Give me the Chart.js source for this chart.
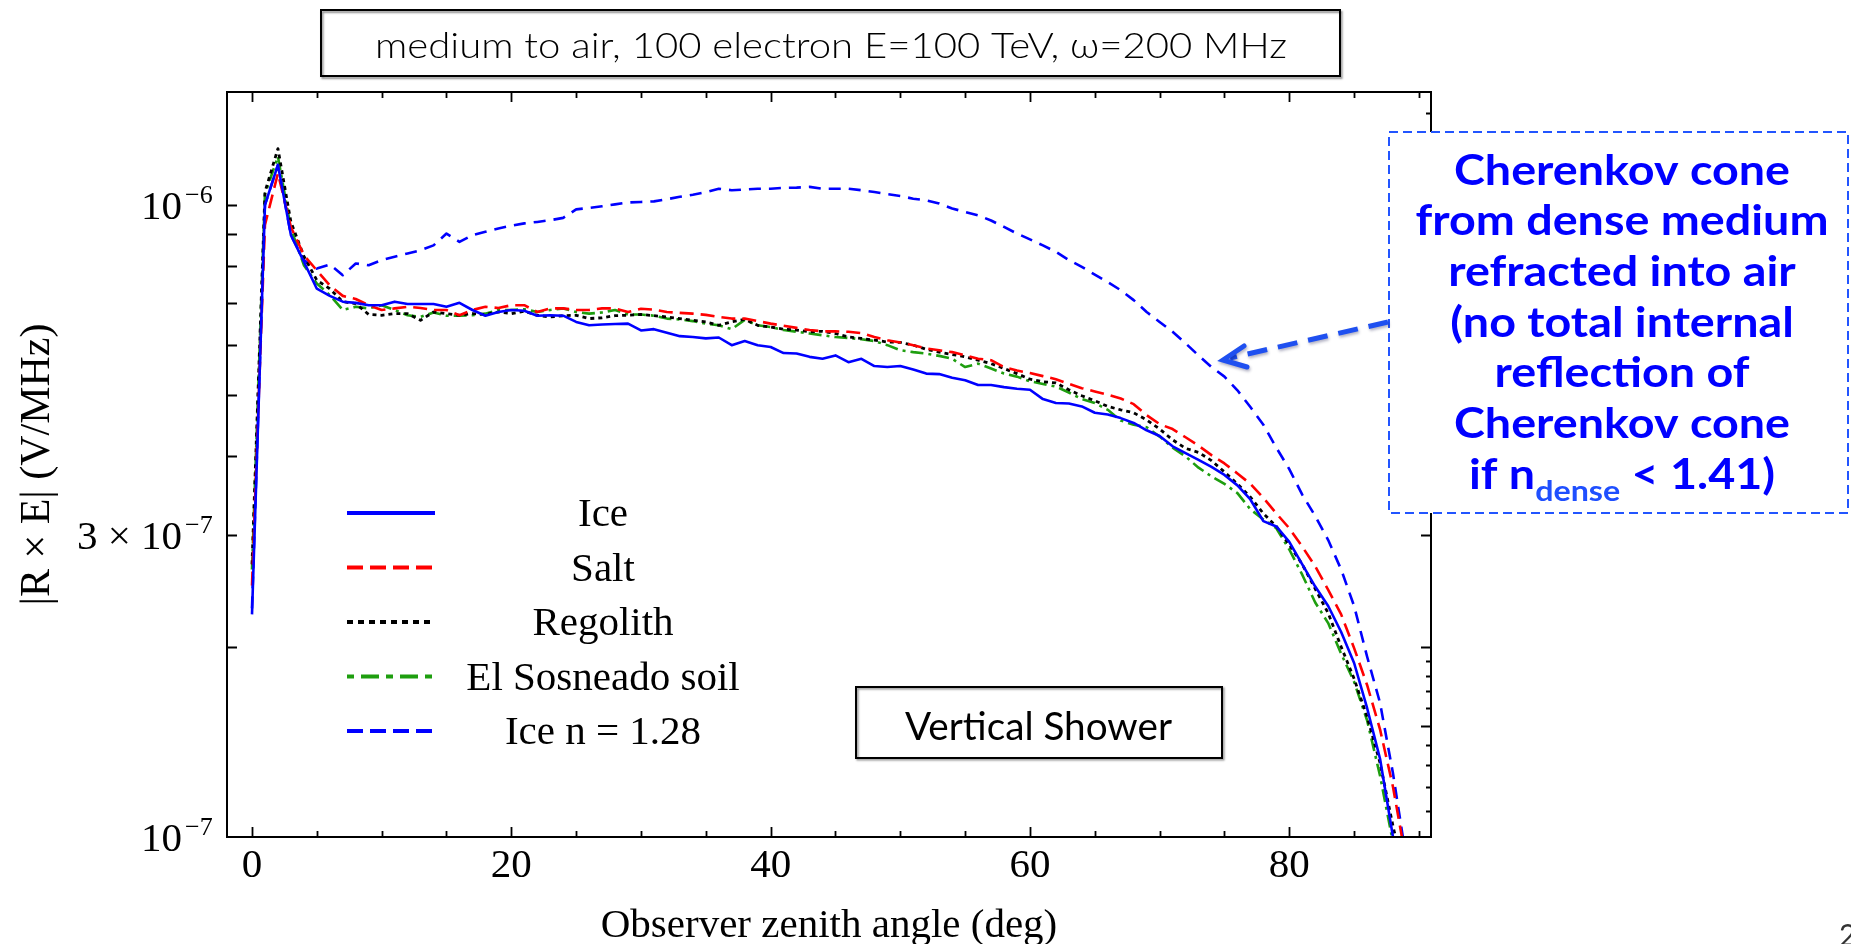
<!DOCTYPE html>
<html>
<head>
<meta charset="utf-8">
<title>medium to air</title>
<script src="https://cdn.jsdelivr.net/npm/chart.js@4.4.1/dist/chart.umd.min.js"></script>
<style>
html,body{margin:0;padding:0;background:#fff;overflow:hidden;}
canvas{display:block;}
</style>
</head>
<body>
<canvas id="c" width="1851" height="944"></canvas>
<script>
// ---------------- DATA ----------------
const angles = [0,1,2,3,4,5,6,7,8,9,10,11,12,13,14,15,16,17,18,19,20,21,22,23,24,25,26,27,28,29,30,31,32,33,34,35,36,37,38,39,40,41,42,43,44,45,46,47,48,49,50,51,52,53,54,55,56,57,58,59,60,61,62,63,64,65,66,67,68,69,70,71,72,73,74,75,76,77,78,79,80,81,82,83,84,85,86,87,88,89];

const iceVals = [2.25e-7,10.0e-7,11.57e-7,8.96e-7,8.13e-7,7.37e-7,7.18e-7,7.03e-7,7.00e-7,6.94e-7,
6.94e-7,7.03e-7,6.97e-7,6.97e-7,6.97e-7,6.90e-7,7.00e-7,6.82e-7,6.68e-7,6.77e-7,
6.82e-7,6.80e-7,6.68e-7,6.69e-7,6.68e-7,6.53e-7,6.45e-7,6.47e-7,6.48e-7,6.49e-7,
6.33e-7,6.36e-7,6.28e-7,6.20e-7,6.18e-7,6.15e-7,6.17e-7,6.00e-7,6.09e-7,6.00e-7,
5.96e-7,5.83e-7,5.82e-7,5.75e-7,5.71e-7,5.78e-7,5.64e-7,5.71e-7,5.56e-7,5.54e-7,
5.56e-7,5.49e-7,5.41e-7,5.40e-7,5.33e-7,5.28e-7,5.19e-7,5.19e-7,5.15e-7,5.12e-7,
5.10e-7,4.93e-7,4.86e-7,4.85e-7,4.80e-7,4.69e-7,4.66e-7,4.60e-7,4.52e-7,4.40e-7,
4.31e-7,4.15e-7,4.05e-7,3.95e-7,3.85e-7,3.74e-7,3.60e-7,3.42e-7,3.16e-7,3.10e-7,
2.93e-7,2.70e-7,2.49e-7,2.32e-7,2.11e-7,1.885e-7,1.60e-7,1.33e-7,1.00e-7,0.85e-7];

const saltVals = [2.50e-7,9.30e-7,11.22e-7,9.23e-7,8.33e-7,7.88e-7,7.46e-7,7.18e-7,7.10e-7,6.94e-7,
6.82e-7,6.86e-7,6.90e-7,6.87e-7,6.82e-7,6.82e-7,6.69e-7,6.82e-7,6.90e-7,6.87e-7,
6.94e-7,6.94e-7,6.77e-7,6.86e-7,6.86e-7,6.82e-7,6.82e-7,6.86e-7,6.86e-7,6.77e-7,
6.85e-7,6.83e-7,6.77e-7,6.75e-7,6.73e-7,6.70e-7,6.65e-7,6.61e-7,6.61e-7,6.55e-7,
6.49e-7,6.44e-7,6.39e-7,6.34e-7,6.31e-7,6.31e-7,6.30e-7,6.27e-7,6.18e-7,6.11e-7,
6.06e-7,6.00e-7,5.93e-7,5.89e-7,5.85e-7,5.78e-7,5.71e-7,5.68e-7,5.54e-7,5.47e-7,
5.42e-7,5.36e-7,5.30e-7,5.21e-7,5.13e-7,5.07e-7,5.01e-7,4.94e-7,4.84e-7,4.65e-7,
4.50e-7,4.42e-7,4.29e-7,4.16e-7,4.02e-7,3.90e-7,3.76e-7,3.62e-7,3.44e-7,3.25e-7,
3.08e-7,2.88e-7,2.68e-7,2.46e-7,2.25e-7,1.99e-7,1.74e-7,1.48e-7,1.20e-7,0.92e-7];

const regolithVals = [2.70e-7,10.48e-7,12.28e-7,9.40e-7,8.30e-7,7.60e-7,7.37e-7,7.03e-7,6.98e-7,6.71e-7,
6.69e-7,6.73e-7,6.73e-7,6.57e-7,6.77e-7,6.73e-7,6.69e-7,6.73e-7,6.71e-7,6.77e-7,
6.73e-7,6.79e-7,6.69e-7,6.65e-7,6.68e-7,6.69e-7,6.61e-7,6.63e-7,6.68e-7,6.69e-7,
6.71e-7,6.68e-7,6.65e-7,6.61e-7,6.57e-7,6.53e-7,6.45e-7,6.53e-7,6.59e-7,6.45e-7,
6.41e-7,6.36e-7,6.34e-7,6.30e-7,6.31e-7,6.26e-7,6.18e-7,6.15e-7,6.11e-7,6.07e-7,
6.06e-7,6.00e-7,5.91e-7,5.85e-7,5.80e-7,5.75e-7,5.68e-7,5.61e-7,5.51e-7,5.41e-7,
5.30e-7,5.25e-7,5.23e-7,5.10e-7,4.99e-7,4.90e-7,4.80e-7,4.74e-7,4.69e-7,4.57e-7,
4.42e-7,4.25e-7,4.12e-7,4.06e-7,3.94e-7,3.78e-7,3.62e-7,3.45e-7,3.25e-7,3.10e-7,
2.90e-7,2.70e-7,2.47e-7,2.26e-7,2.00e-7,1.78e-7,1.55e-7,1.31e-7,1.04e-7,0.85e-7];

const soilVals = [2.65e-7,10.40e-7,11.93e-7,9.18e-7,8.03e-7,7.51e-7,7.20e-7,6.82e-7,6.90e-7,6.86e-7,
6.94e-7,6.82e-7,6.69e-7,6.65e-7,6.76e-7,6.68e-7,6.68e-7,6.69e-7,6.73e-7,6.82e-7,
6.82e-7,6.84e-7,6.77e-7,6.82e-7,6.86e-7,6.77e-7,6.73e-7,6.76e-7,6.82e-7,6.71e-7,
6.71e-7,6.68e-7,6.61e-7,6.59e-7,6.55e-7,6.49e-7,6.45e-7,6.36e-7,6.58e-7,6.45e-7,
6.41e-7,6.34e-7,6.30e-7,6.26e-7,6.22e-7,6.18e-7,6.16e-7,6.13e-7,6.09e-7,6.00e-7,
5.89e-7,5.85e-7,5.82e-7,5.77e-7,5.71e-7,5.54e-7,5.61e-7,5.51e-7,5.41e-7,5.35e-7,
5.26e-7,5.21e-7,5.16e-7,5.05e-7,4.93e-7,4.86e-7,4.74e-7,4.56e-7,4.49e-7,4.45e-7,
4.30e-7,4.13e-7,4.00e-7,3.84e-7,3.72e-7,3.62e-7,3.50e-7,3.30e-7,3.18e-7,3.08e-7,
2.85e-7,2.60e-7,2.35e-7,2.18e-7,1.95e-7,1.76e-7,1.53e-7,1.25e-7,0.98e-7,0.85e-7];

const iceN128Vals = [2.30e-7,10.0e-7,11.57e-7,8.96e-7,8.18e-7,7.93e-7,8.05e-7,7.74e-7,8.08e-7,8.03e-7,
8.18e-7,8.28e-7,8.38e-7,8.48e-7,8.63e-7,9.01e-7,8.74e-7,8.96e-7,9.07e-7,9.18e-7,
9.27e-7,9.35e-7,9.40e-7,9.46e-7,9.54e-7,9.84e-7,9.89e-7,9.95e-7,10.02e-7,10.09e-7,
10.11e-7,10.13e-7,10.21e-7,10.30e-7,10.38e-7,10.48e-7,10.61e-7,10.55e-7,10.58e-7,10.61e-7,
10.61e-7,10.64e-7,10.65e-7,10.68e-7,10.61e-7,10.61e-7,10.61e-7,10.55e-7,10.48e-7,10.40e-7,
10.33e-7,10.23e-7,10.17e-7,10.05e-7,9.87e-7,9.75e-7,9.63e-7,9.45e-7,9.23e-7,9.01e-7,
8.82e-7,8.63e-7,8.43e-7,8.18e-7,7.98e-7,7.76e-7,7.55e-7,7.33e-7,7.07e-7,6.77e-7,
6.53e-7,6.30e-7,6.04e-7,5.78e-7,5.54e-7,5.35e-7,5.09e-7,4.79e-7,4.49e-7,4.13e-7,
3.82e-7,3.48e-7,3.22e-7,2.95e-7,2.65e-7,2.32e-7,1.93e-7,1.63e-7,1.26e-7,0.93e-7];

const seriesNames = ['Ice', 'Salt', 'Regolith', 'El Sosneado soil', 'Ice n = 1.28'];

// tick values / labels
const xTickLabels = [0, 20, 40, 60, 80];
const xTickMarks = [0,5,10,15,20,25,30,35,40,45,50,55,60,65,70,75,80,85,90];
const yLeftTickMarks = [2e-7,3e-7,4e-7,5e-7,6e-7,7e-7,8e-7,9e-7,1e-6];
const yRightFineTicks = [1.1e-7,1.2e-7,1.3e-7,1.4e-7,1.6e-7,1.7e-7,1.8e-7,1.9e-7,1.1e-6,1.2e-6,1.3e-6,1.4e-6];
const yRightMainTicks = [1.5e-7,2e-7,3e-7,4e-7,5e-7,6e-7,7e-7,8e-7,9e-7,1e-6];
const yTickLabels = [
  {v: 1e-7, base: '10', exp: '\u22127'},
  {v: 3e-7, base: '3 \u00d7 10', exp: '\u22127'},
  {v: 1e-6, base: '10', exp: '\u22126'}
];

const titleText = 'medium to air, 100 electron E=100 TeV, \u03c9=200 MHz';
const xTitle = 'Observer zenith angle (deg)';
const yTitle = '|R \u00d7 E| (V/MHz)';
const boxText = 'Vertical Shower';
const noteLines = ['Cherenkov cone', 'from dense medium', 'refracted into air', '(no total internal', 'reflection of', 'Cherenkov cone'];

// ---------------- STYLE ----------------
const SERIF = '"Liberation Serif","Times New Roman",Times,serif';
const SANS = 'Lato,"Open Sans","DejaVu Sans",sans-serif';
const styles = [
  {color:'#0000ff', dash:[], width:2.6},
  {color:'#ff0000', dash:[14,7], width:2.6},
  {color:'#000000', dash:[4,4], width:2.8},
  {color:'#1e9e0f', dash:[13,5,3,5], width:2.6},
  {color:'#0000ff', dash:[12,8], width:2.6}
];
const seriesData = [iceVals, saltVals, regolithVals, soilVals, iceN128Vals];

const datasets = seriesData.map((vals, k) => ({
  label: seriesNames[k],
  data: angles.map((a, i) => ({x: a, y: vals[i]})),
  borderColor: styles[k].color,
  backgroundColor: styles[k].color,
  borderDash: styles[k].dash,
  borderWidth: styles[k].width,
  borderJoinStyle: 'round',
  pointRadius: 0,
  tension: 0,
  fill: false
}));

function fitText(ctx, text, cx, baseline, targetW) {
  const w = ctx.measureText(text).width;
  ctx.save();
  ctx.translate(cx, baseline);
  ctx.scale(targetW / w, 1);
  ctx.textAlign = 'center';
  ctx.fillText(text, 0, 0);
  ctx.restore();
}

const overlay = {
  id: 'overlay',
  afterDraw(chart) {
    const ctx = chart.ctx, a = chart.chartArea;
    const xs = chart.scales.x, ys = chart.scales.y;
    ctx.save();
    ctx.setLineDash([]);
    // frame
    ctx.strokeStyle = '#000';
    ctx.lineWidth = 2;
    ctx.strokeRect(a.left, a.top, a.right - a.left, a.bottom - a.top);
    // ticks
    ctx.lineWidth = 1.8;
    ctx.beginPath();
    xTickMarks.forEach(v => {
      const px = Math.round(xs.getPixelForValue(v)) + 0.5;
      const L = (v % 20 === 0) ? 10 : 6;
      ctx.moveTo(px, a.bottom); ctx.lineTo(px, a.bottom - L);
      ctx.moveTo(px, a.top); ctx.lineTo(px, a.top + L);
    });
    yLeftTickMarks.forEach(v => {
      const py = Math.round(ys.getPixelForValue(v)) + 0.5;
      ctx.moveTo(a.left, py); ctx.lineTo(a.left + 10, py);
    });
    yRightMainTicks.forEach(v => {
      const py = Math.round(ys.getPixelForValue(v)) + 0.5;
      ctx.moveTo(a.right, py); ctx.lineTo(a.right - 10, py);
    });
    yRightFineTicks.forEach(v => {
      const py = Math.round(ys.getPixelForValue(v)) + 0.5;
      ctx.moveTo(a.right, py); ctx.lineTo(a.right - 5, py);
    });
    ctx.stroke();

    // x tick labels
    ctx.fillStyle = '#000';
    ctx.font = '41px ' + SERIF;
    ctx.textAlign = 'center';
    ctx.textBaseline = 'alphabetic';
    xTickLabels.forEach(v => {
      ctx.fillText(String(v), xs.getPixelForValue(v), 877);
    });
    // y tick labels with superscripts
    yTickLabels.forEach(t => {
      const py = ys.getPixelForValue(t.v);
      ctx.font = '41px ' + SERIF;
      ctx.textAlign = 'right';
      ctx.fillText(t.base, 182, py + 14);
      ctx.font = '26px ' + SERIF;
      ctx.textAlign = 'left';
      ctx.fillText(t.exp, 185, py - 2);
    });
    // axis titles
    ctx.font = '41px ' + SERIF;
    ctx.textAlign = 'center';
    ctx.fillText(xTitle, (a.left + a.right) / 2, 937);
    ctx.save();
    ctx.translate(49, (a.top + a.bottom) / 2);
    ctx.rotate(-Math.PI / 2);
    ctx.font = '42px ' + SERIF;
    ctx.fillText(yTitle, 0, 0);
    ctx.restore();

    // legend
    const legY0 = 513, legDy = 54.5;
    seriesNames.forEach((name, k) => {
      const y = legY0 + legDy * k;
      ctx.save();
      ctx.strokeStyle = styles[k].color;
      ctx.lineWidth = 4;
      const d = k === 1 || k === 4 ? [16,7] : k === 2 ? [6,5] : k === 3 ? [7,7,18,7] : [];
      ctx.setLineDash(d);
      ctx.beginPath(); ctx.moveTo(347, y); ctx.lineTo(435, y); ctx.stroke();
      ctx.restore();
      ctx.font = '41px ' + SERIF;
      ctx.textAlign = 'center';
      ctx.fillStyle = '#000';
      ctx.fillText(name, 603, y + 13);
    });

    // title box
    ctx.save();
    ctx.shadowColor = 'rgba(0,0,0,0.45)'; ctx.shadowOffsetX = 1.5; ctx.shadowOffsetY = 2; ctx.shadowBlur = 2;
    ctx.strokeStyle = '#000'; ctx.lineWidth = 2;
    ctx.strokeRect(321, 10, 1019, 66);
    ctx.restore();
    ctx.fillStyle = '#000';
    ctx.font = '300 35px ' + SANS;
    fitText(ctx, titleText, 831, 58, 912);

    // Vertical Shower box
    ctx.save();
    ctx.fillStyle = '#fff';
    ctx.fillRect(856, 687, 366, 71);
    ctx.shadowColor = 'rgba(0,0,0,0.45)'; ctx.shadowOffsetX = 1.5; ctx.shadowOffsetY = 1.5; ctx.shadowBlur = 2;
    ctx.strokeStyle = '#000'; ctx.lineWidth = 2;
    ctx.strokeRect(856, 687, 366, 71);
    ctx.restore();
    ctx.fillStyle = '#000';
    ctx.font = '38px ' + SANS;
    fitText(ctx, boxText, 1038.5, 740, 267);

    // annotation box
    ctx.save();
    ctx.fillStyle = '#fff';
    ctx.fillRect(1389, 132, 459, 381);
    ctx.strokeStyle = '#2255ff'; ctx.lineWidth = 2; ctx.setLineDash([9,5]);
    ctx.strokeRect(1389, 132, 459, 381);
    ctx.restore();
    ctx.fillStyle = '#0000ff';
    ctx.font = 'bold 42px ' + SANS;
    const sx = 413 / ctx.measureText('from dense medium').width;
    const baselines = [185, 235, 286, 337, 387, 438, 489];
    noteLines.forEach((ln, i) => {
      ctx.save();
      ctx.translate(1622, baselines[i]);
      ctx.scale(sx, 1);
      ctx.textAlign = 'center';
      ctx.fillText(ln, 0, 0);
      ctx.restore();
    });
    // last line with subscript
    ctx.save();
    ctx.translate(1622, baselines[6]);
    ctx.scale(sx, 1);
    ctx.textAlign = 'left';
    ctx.font = 'bold 42px ' + SANS;
    const p1 = 'if n', p3 = ' < 1.41)';
    const w1 = ctx.measureText(p1).width;
    const w3 = ctx.measureText(p3).width;
    ctx.font = 'bold 29px ' + SANS;
    const w2 = ctx.measureText('dense').width;
    const tot = w1 + w2 + w3;
    let xx = -tot / 2;
    ctx.font = 'bold 42px ' + SANS;
    ctx.fillText(p1, xx, 0); xx += w1;
    ctx.font = 'bold 29px ' + SANS;
    ctx.fillStyle = '#1f4fff';
    ctx.fillText('dense', xx, 12); xx += w2;
    ctx.fillStyle = '#0000ff';
    ctx.font = 'bold 42px ' + SANS;
    ctx.fillText(p3, xx, 0);
    ctx.restore();

    // arrow
    ctx.save();
    ctx.strokeStyle = '#1f50f0';
    ctx.lineWidth = 5;
    ctx.lineCap = 'butt';
    ctx.shadowColor = 'rgba(0,0,60,0.3)'; ctx.shadowOffsetX = 1; ctx.shadowOffsetY = 2; ctx.shadowBlur = 3;
    ctx.setLineDash([20, 11]);
    ctx.beginPath(); ctx.moveTo(1388, 322); ctx.lineTo(1230, 358); ctx.stroke();
    ctx.setLineDash([]);
    ctx.lineCap = 'round';
    ctx.beginPath();
    ctx.moveTo(1244, 346); ctx.lineTo(1223, 360); ctx.lineTo(1247, 367);
    ctx.stroke();
    ctx.restore();

    // page number (cut at the slide edge)
    ctx.fillStyle = '#333';
    ctx.font = '30px ' + SANS;
    ctx.textAlign = 'left';
    ctx.fillText('2', 1839, 946);

    ctx.restore();
  }
};

new Chart(document.getElementById('c').getContext('2d'), {
  type: 'line',
  data: { datasets },
  options: {
    responsive: false,
    animation: false,
    devicePixelRatio: 1,
    layout: { padding: { left: 0, right: 420, top: 92, bottom: 0 } },
    plugins: { legend: { display: false }, tooltip: { enabled: false } },
    scales: {
      x: {
        type: 'linear', min: -1.928, max: 90.93,
        grid: { display: false, drawTicks: false },
        border: { display: false },
        ticks: { display: false },
        afterFit: s => { s.height = 107; }
      },
      y: {
        type: 'logarithmic', min: 1e-7, max: 1.509e-6,
        grid: { display: false, drawTicks: false },
        border: { display: false },
        ticks: { display: false },
        afterFit: s => { s.width = 227; }
      }
    }
  },
  plugins: [overlay]
});
</script>
</body>
</html>
